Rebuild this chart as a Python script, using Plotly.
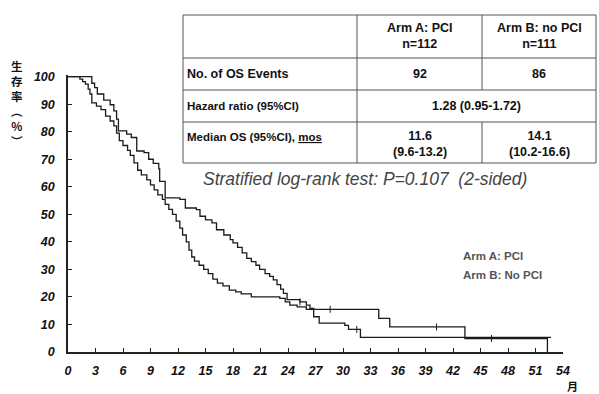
import plotly.graph_objects as go

# ---------------- data ----------------
arm_a_t = [0, 1.3, 1.6, 1.9, 2.2, 2.4, 2.6, 3.1, 3.6, 4.1, 4.6, 5.0, 5.3, 5.6, 6.0, 6.5, 6.8,
           7.2, 7.6, 8.0, 8.6, 9.0, 9.4, 9.8, 10.3, 10.6, 11.0, 11.4, 11.8, 12.2, 12.5, 12.9,
           13.2, 13.5, 13.8, 14.3, 14.8, 15.3, 15.8, 16.3, 16.9, 17.6, 18.3, 18.9, 20.0, 23.1,
           23.7, 24.2, 25.0, 26.0, 33.9, 35.1, 43.3, 52.3]
arm_a_s = [100, 99.1, 98.2, 97.3, 95.5, 93.7, 90.5, 89.3, 88, 85.7, 83.9, 82.1, 79.5, 76.8, 75,
           73.2, 71.4, 68.7, 66, 64.3, 62.5, 60.7, 58.9, 57.1, 55.4, 53.6, 51.8, 50, 47.5, 45,
           42.5, 40, 37, 34.5, 33, 31.5, 30, 28.5, 26.5, 25, 24, 22.5, 21.8, 21.1, 20, 19.5,
           18.2, 17, 16.4, 15.5, 12.2, 9.1, 4.9, 0]

arm_b_t = [0, 2.6, 2.9, 3.2, 3.9, 4.6, 5.0, 5.3, 5.5, 6.4, 6.9, 7.5, 8.3, 8.8, 9.3, 9.9, 10.0,
           10.6, 12.2, 12.8, 14.0, 14.4, 15.0, 15.7, 16.2, 17.0, 17.7, 18.0, 18.5, 19.0, 19.5,
           20.0, 20.5, 20.9, 21.5, 22.0, 22.4, 22.8, 23.2, 23.5, 23.9, 25.3, 26.0, 26.4, 26.8,
           27.4, 30.2, 30.6, 31.9, 52.7]
arm_b_s = [100, 97.6, 96, 93.7, 91.5, 89.8, 87.6, 84.6, 80.3, 79.1, 77.9, 73, 72.4, 70, 68.5,
           66.5, 62, 56, 55.4, 52.3, 51.7, 49.3, 48, 46.9, 44.4, 42.5, 40.8, 39.6, 38, 36, 34,
           32.8, 31.5, 30, 28.5, 27.5, 26.2, 24.5, 22.8, 21.3, 19, 18.2, 17, 15.8, 12.8,
           10.5, 9.7, 8.2, 5.3, 5.3]

cens_a_t = [28.6, 40.2, 46.2]
cens_a_s = [15.5, 9.1, 4.9]
cens_b_t = [25.3, 31.5]
cens_b_s = [18.2, 8.2]

y_ticks = list(range(0, 101, 10))
x_ticks = list(range(0, 55, 3))

table_header = ["", "Arm A: PCI<br>n=112", "Arm B: no PCI<br>n=111"]
row_events = ["No. of OS Events", "92", "86"]
row_hr = ["Hazard ratio (95%CI)", "1.28 (0.95-1.72)"]
row_median = ["Median OS (95%CI), <u>mos</u>", "11.6<br>(9.6-13.2)", "14.1<br>(10.2-16.6)"]
test_text = "Stratified log-rank test: P=0.107  (2-sided)"
legend_labels = ["Arm A: PCI", "Arm B: No PCI"]
y_title = "生<br>存<br>率<br>︵<br>%<br>︶"
x_unit = "月"

# ---------------- layout helpers ----------------
W, H = 599, 394
ML, MR, MT, MB = 68, 36, 75, 42
PW, PH = W - ML - MR, H - MT - MB


def px(x):
    return (x - ML) / PW


def py(y):
    return (H - MB - y) / PH


SANS = "Liberation Sans, Arial, sans-serif"

fig = go.Figure()
line_style = dict(color="#1a1a1a", width=1.3, shape="hv")
fig.add_trace(go.Scatter(x=arm_a_t, y=arm_a_s, mode="lines", line=line_style,
                         name=legend_labels[0], showlegend=False, hoverinfo="skip"))
fig.add_trace(go.Scatter(x=arm_b_t, y=arm_b_s, mode="lines", line=line_style,
                         name=legend_labels[1], showlegend=False, hoverinfo="skip"))
cmark = dict(symbol="line-ns", size=5, line=dict(color="#1a1a1a", width=1))
fig.add_trace(go.Scatter(x=cens_a_t, y=cens_a_s, mode="markers", marker=cmark,
                         showlegend=False, hoverinfo="skip"))
fig.add_trace(go.Scatter(x=cens_b_t, y=cens_b_s, mode="markers", marker=cmark,
                         showlegend=False, hoverinfo="skip"))

shapes = []
ann = []
# table geometry (pixels)
tx0, tx1 = 183, 596
ty = [15, 58, 90, 122, 163]
cx = [357, 482]
lc = "#555555"
shapes.append(dict(type="rect", xref="paper", yref="paper", x0=px(tx0), x1=px(tx1),
                   y0=py(ty[-1]), y1=py(ty[0]), line=dict(color=lc, width=1)))
for yy in ty[1:-1]:
    shapes.append(dict(type="line", xref="paper", yref="paper", x0=px(tx0), x1=px(tx1),
                       y0=py(yy), y1=py(yy), line=dict(color=lc, width=1)))
shapes.append(dict(type="line", xref="paper", yref="paper", x0=px(cx[0]), x1=px(cx[0]),
                   y0=py(ty[-1]), y1=py(ty[0]), line=dict(color=lc, width=1)))
for (a, b) in [(ty[0], ty[2]), (ty[3], ty[4])]:
    shapes.append(dict(type="line", xref="paper", yref="paper", x0=px(cx[1]), x1=px(cx[1]),
                       y0=py(b), y1=py(a), line=dict(color=lc, width=1)))

tfont = dict(family=SANS, size=12.5, color="#111", weight="bold")
col_centers = [(cx[0] + cx[1]) / 2, (cx[1] + tx1) / 2]


def add_text(text, x, y, xanchor="center", font=tfont, yanchor="middle"):
    ann.append(dict(text=text, x=px(x), y=py(y), xref="paper", yref="paper",
                    xanchor=xanchor, yanchor=yanchor, showarrow=False, font=font))


add_text(table_header[1], col_centers[0], 36)
add_text(table_header[2], col_centers[1], 36)
add_text(row_events[0], 185, 74, "left")
add_text(row_events[1], col_centers[0], 74)
add_text(row_events[2], col_centers[1], 74)
add_text(row_hr[0], 185, 106, "left", dict(family=SANS, size=11.5, color="#111", weight="bold"))
add_text(row_hr[1], (cx[0] + tx1) / 2, 106)
add_text(row_median[0], 185, 137, "left", dict(family=SANS, size=11.5, color="#111", weight="bold"))
add_text(row_median[1], col_centers[0], 144)
add_text(row_median[2], col_centers[1], 144)

add_text(test_text, 201, 179, "left",
         dict(family=SANS, size=17.5, color="#444", style="italic"))
lfont = dict(family=SANS, size=11.5, color="#555", weight="bold")
add_text(legend_labels[0], 461, 256, "left", lfont)
add_text(legend_labels[1], 461, 275, "left", lfont)

# y-axis title (vertical stacked CJK, one annotation)
add_text(y_title, 17, 56, "center",
         dict(family="Noto Sans CJK JP", size=11.5, color="#111", weight="bold"), "top")
add_text(x_unit, 572, 386, "center", dict(family="Noto Sans CJK JP", size=11, color="#111",
                                          weight="bold"))

tickfont = dict(family=SANS, size=12.5, color="#111", weight="bold", style="italic")
fig.update_layout(
    width=W, height=H,
    margin=dict(l=ML, r=MR, t=MT, b=MB),
    paper_bgcolor="white", plot_bgcolor="white",
    shapes=shapes, annotations=ann,
    xaxis=dict(range=[0, 54], tickvals=x_ticks, ticktext=[str(v) for v in x_ticks],
               showgrid=False, zeroline=False, showline=True, linecolor="#222", linewidth=2,
               ticks="inside", ticklen=4, tickcolor="#222", tickwidth=1,
               tickfont=tickfont, ticklabelstandoff=6),
    yaxis=dict(range=[0, 100.6], tickvals=y_ticks, ticktext=[str(v) for v in y_ticks],
               showgrid=False, zeroline=False, showline=True, linecolor="#222", linewidth=1.5,
               ticks="inside", ticklen=4, tickcolor="#222", tickwidth=1,
               tickfont=tickfont, ticklabelstandoff=9),
)

fig.write_html("out.html", config={"displayModeBar": False},
               post_script="document.body.style.margin='0px';")
